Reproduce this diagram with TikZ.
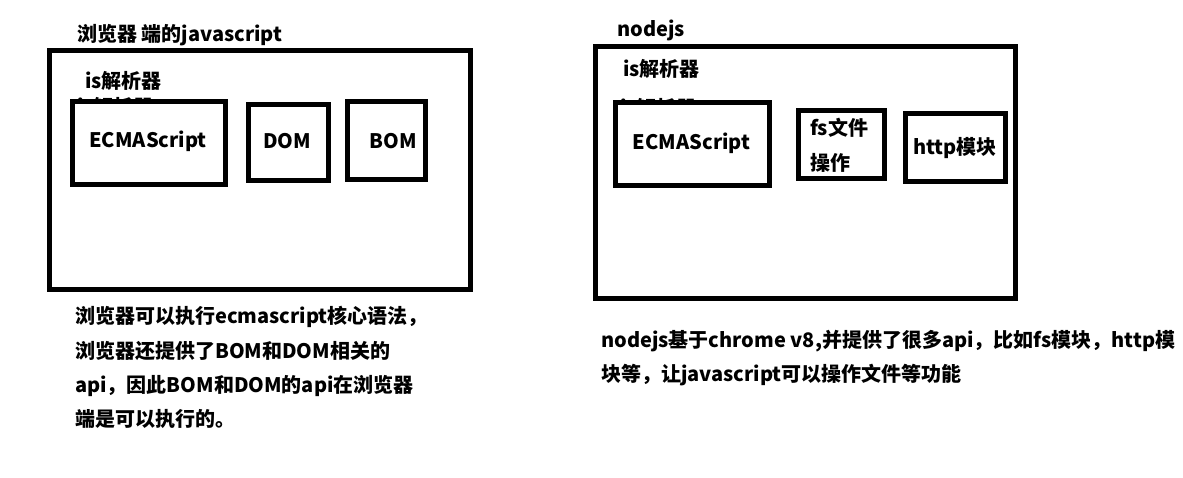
\documentclass[tikz,border=0pt]{standalone}
\usepackage{fontspec}
\setmainfont{Noto Sans CJK SC}
\begin{document}
\begin{tikzpicture}[x=1pt,y=-1pt,
  box/.style={draw=black, line width=5pt, fill=white},
  txt/.style={inner sep=0pt, font=\fontsize{20}{24}\selectfont\bfseries, text=black},
  lbl/.style={txt, anchor=base west},
  mid/.style={txt, anchor=base}]
\useasboundingbox[fill=white] (0,0) rectangle (1183,477);
% left panel
\node[lbl] (ltitle) at (77,41.5) {浏览器 端的javascript};
\draw[box] (49.8,50.5) rectangle (470.5,289.5);
\node[lbl] (ljs) at (85,88.5) {is解析器};
\node[lbl] (ljs2) at (77,114) {js解析器};
\draw[box] (72.5,101.5) rectangle (225.5,184.5);
\draw[box] (248,104.5) rectangle (328,180.5);
\draw[box] (347.5,101.5) rectangle (425.5,179.5);
\node[mid] (lecma) at (148,147) {ECMAScript};
\node[mid] (ldom) at (287,148) {DOM};
\node[mid] (lbom) at (393,148) {BOM};
\node[lbl] (ln1) at (75,323.5) {浏览器可以执行ecmascript核心语法，};
\node[lbl] (ln2) at (75,358.5) {浏览器还提供了BOM和DOM相关的};
\node[lbl] (ln3) at (75,392.5) {api，因此BOM和DOM的api在浏览器};
\node[lbl] (ln4) at (75,426.5) {端是可以执行的。};
% right panel
\node[lbl] (rtitle) at (617,36) {nodejs};
\draw[box] (595.5,46.5) rectangle (1015,298.5);
\node[lbl] (rjs) at (623,76) {is解析器};
\node[lbl] (rjs2) at (620,115) {js解析器};
\draw[box] (615.5,102.5) rectangle (769.5,185.5);
\draw[box] (798,110.5) rectangle (884.5,178.5);
\draw[box] (905.5,113.5) rectangle (1005.5,181.5);
\node[mid] (recma) at (691.5,149) {ECMAScript};
\node[lbl] (rfs1) at (810,135.5) {fs文件};
\node[lbl] (rfs2) at (810,170.5) {操作};
\node[lbl] (rhttp) at (913,154.5) {http模块};
\node[lbl] (rn1) at (601,347) {nodejs基于chrome v8,并提供了很多api，比如fs模块，http模};
\node[lbl] (rn2) at (601,381) {块等，让javascript可以操作文件等功能};
\end{tikzpicture}
\end{document}
